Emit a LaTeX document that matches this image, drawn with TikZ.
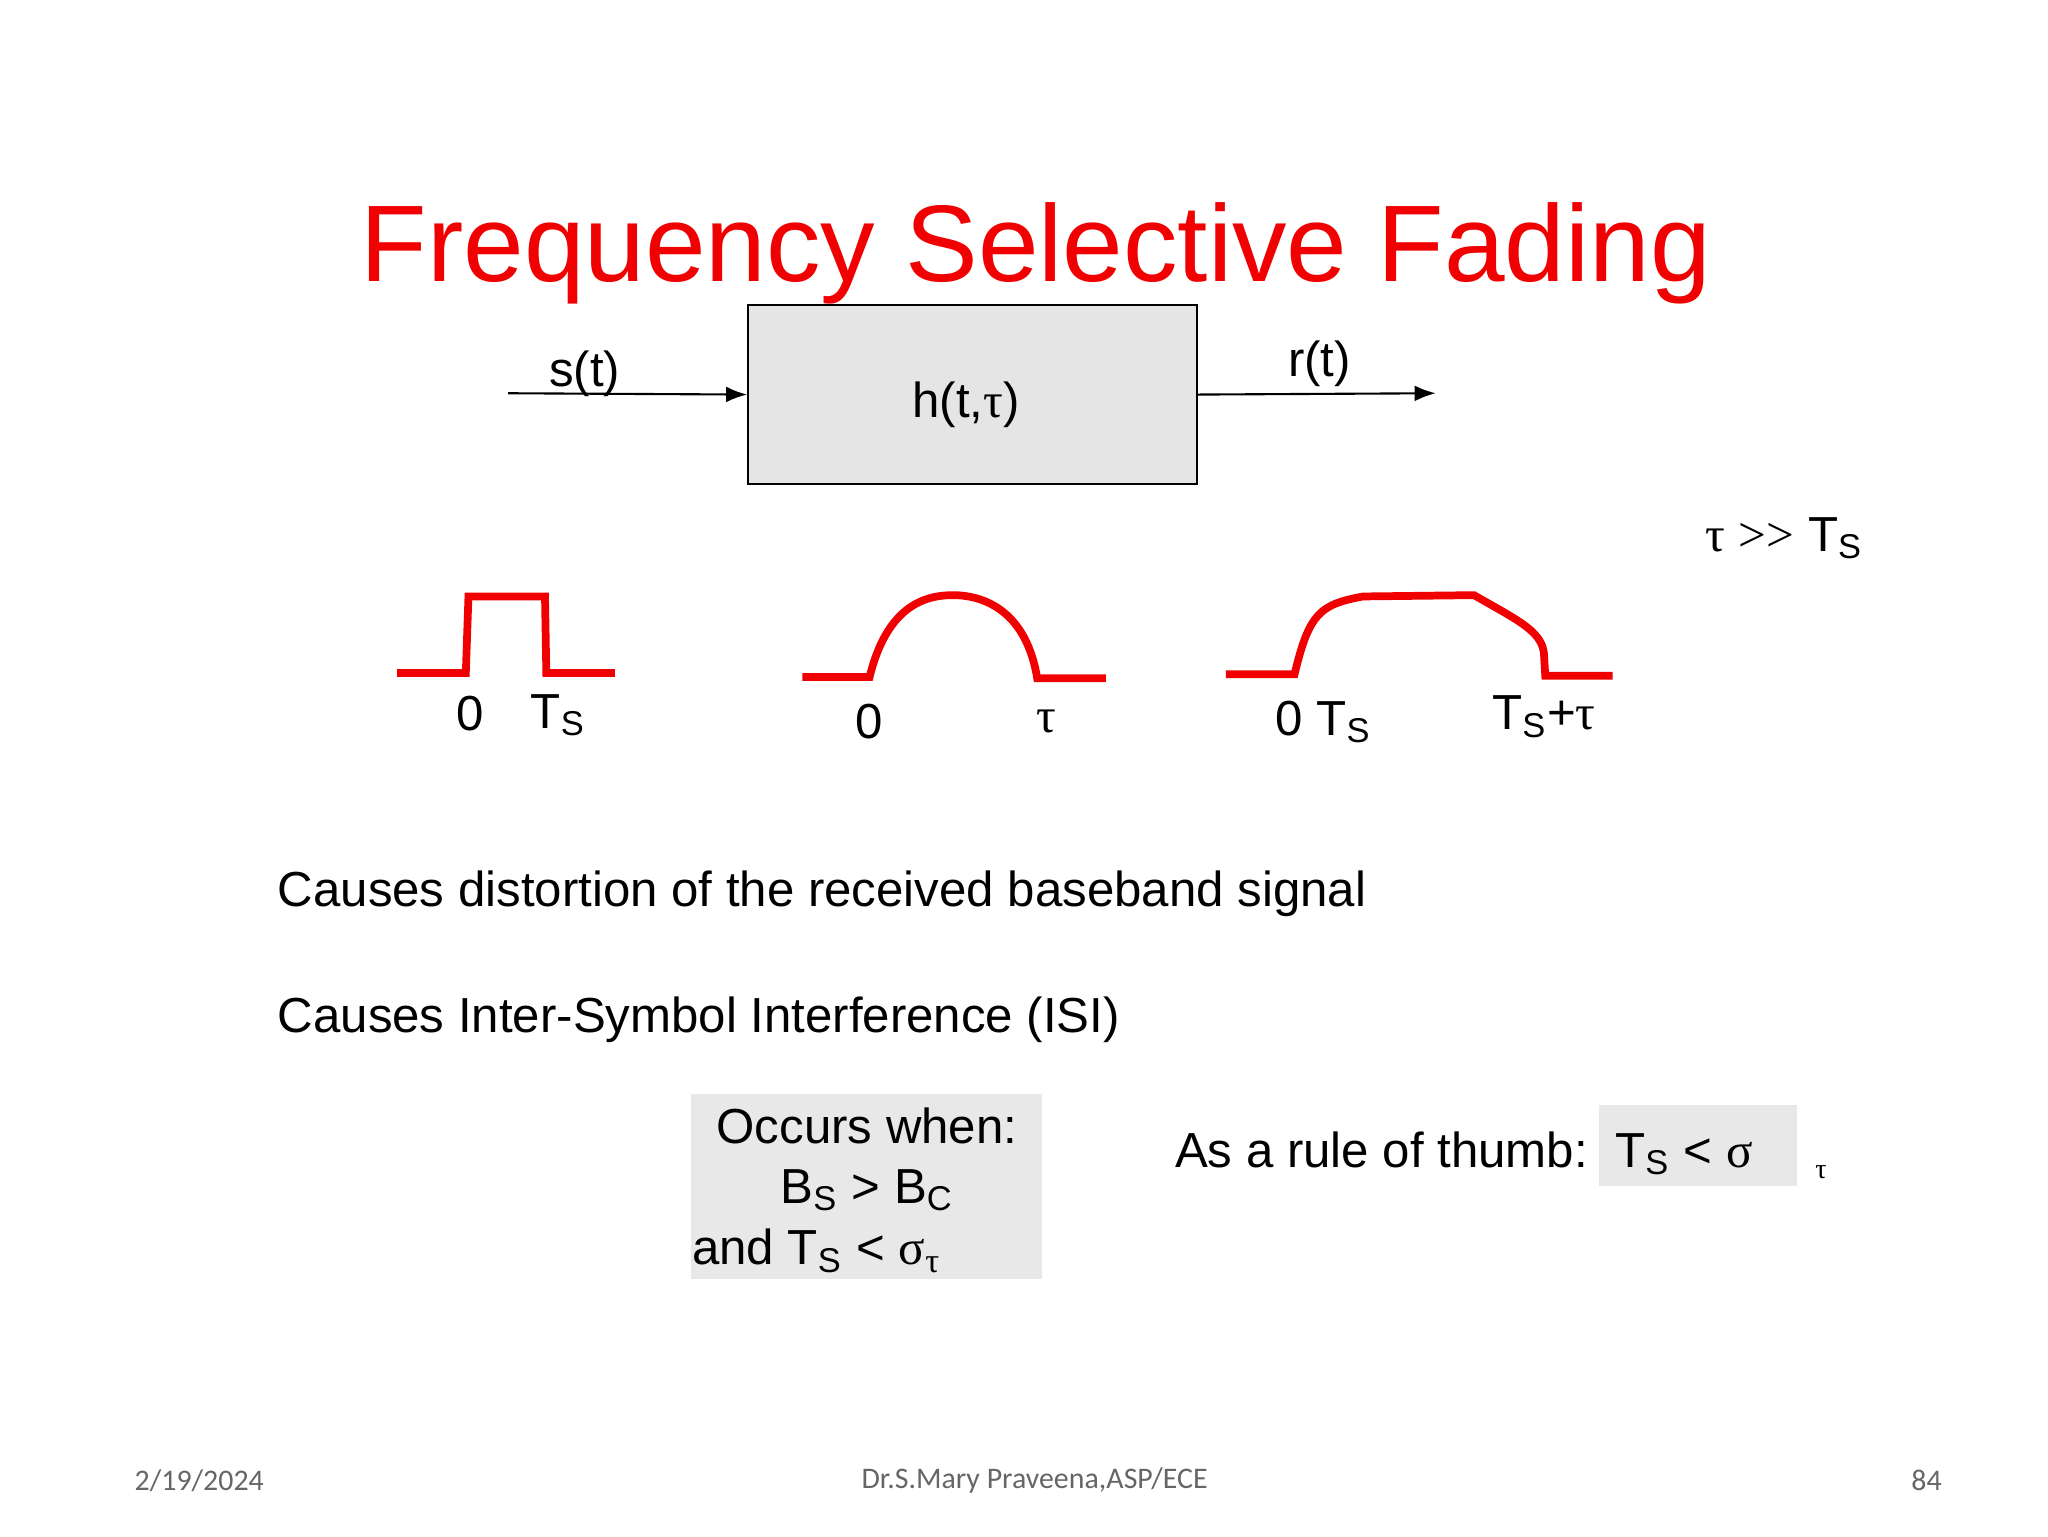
\documentclass[tikz,border=0pt]{standalone}
\usepackage{fontspec}
\setmainfont{Liberation Sans}
\newfontfamily\tms{Liberation Serif}
\newfontfamily\carfont{Carlito}
\usetikzlibrary{arrows.meta}
\definecolor{tred}{RGB}{240,0,0}
\begin{document}
\begin{tikzpicture}[x=0.013196cm,y=-0.013196cm,
 sig/.style={draw=tred,line width=2.2pt},
 lbl/.style={font=\fontsize{14}{16}\selectfont,inner sep=0pt},
 foot/.style={font=\carfont\fontsize{8.5}{10}\selectfont,text=black!60,inner sep=0pt},
 arr/.style={-{Latex[length=6pt]},line width=0.6pt}]
\useasboundingbox (0,0) rectangle (1552,1164);
\node[text=tred,font=\fontsize{31}{36}\selectfont] (title) at (785,192) {Frequency Selective Fading};
\node[draw,fill=black!10,minimum width=340*0.013196cm,minimum height=136*0.013196cm,line width=0.6pt] (h) at (737,299) {};
\node[lbl] (hl) at (732,307) {h(t,{\tms τ})};
\coordinate (sin) at (385,298);
\coordinate (rout) at (1088,298);
\draw[arr] (sin) -- (h.west);
\draw[arr] (h.east) -- (rout);
\node[lbl] (s) at (443,283) {s(t)};
\node[lbl] (r) at (1000,276) {r(t)};
\node[lbl] (cond) at (1352,408) {{\tms τ} {\tms >>} T\textsubscript{S}};
\draw[sig] (301,510) -- (353,510) -- (355,452) -- (413,452) -- (414,510) -- (466,510);
\node[lbl] (a0) at (356,541) {0};
\node[lbl] (a1) at (423,542) {T\textsubscript{S}};
\draw[sig] (608,513) -- (659,513) .. controls (672,460) and (700,451) .. (722,451) .. controls (748,451) and (778,465) .. (786,514) -- (838,514);
\node[lbl] (b0) at (659,547) {0};
\node[lbl] (b1) at (793,547) {\tms τ};
\draw[sig] (929,511) -- (981,511) .. controls (992,465) and (1000,458) .. (1033,452) -- (1117,451) .. controls (1150,470) and (1168,478) .. (1170,495) -- (1171,512) -- (1222,512);
\node[lbl] (c0) at (1003,547) {0 T\textsubscript{S}};
\node[lbl] (c1) at (1170,543) {T\textsubscript{S}+{\tms τ}};
\node[lbl,anchor=west] (t1) at (210,677) {Causes distortion of the received baseband signal};
\node[lbl,anchor=west] (t2) at (210,773) {Causes Inter-Symbol Interference (ISI)};
\node[fill=black!9,minimum width=266*0.013196cm,minimum height=140*0.013196cm,inner sep=0pt] (ob) at (657,899) {};
\node[lbl] (o1) at (657,853) {Occurs when:};
\node[lbl] (o2) at (657,902) {B\textsubscript{S} > B\textsubscript{C}};
\node[lbl,anchor=west] (o3) at (524,948) {and T\textsubscript{S} < {\tms σ\textsubscript{τ}}};
\node[fill=black!9,minimum width=150*0.013196cm,minimum height=62*0.013196cm,inner sep=0pt] (rb) at (1287,868) {};
\node[lbl,anchor=west] (rt) at (890,874) {As a rule of thumb:\ \ T\textsubscript{S} < {\tms σ}};
\node[font=\tms\fontsize{8}{9}\selectfont,inner sep=0pt] (rtau) at (1380,888) {τ};
\node[foot] (f1) at (151,1122) {2/19/2024};
\node[foot] (f2) at (784,1122) {Dr.S.Mary Praveena,ASP/ECE};
\node[foot] (f3) at (1460,1122) {84};
\end{tikzpicture}
\end{document}
